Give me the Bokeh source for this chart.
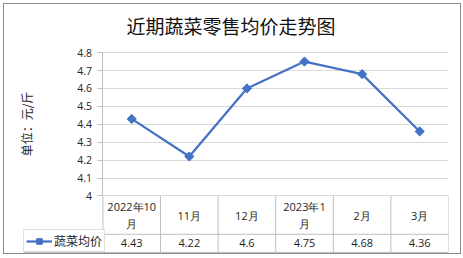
from bokeh.plotting import figure
from bokeh.models import (Range1d, FixedTicker, ColumnDataSource, Legend, LegendItem)
from bokeh.core.properties import value
from bokeh.embed import file_html
from bokeh.resources import INLINE
import math

title = "近期蔬菜零售均价走势图"
categories = ["2022年10\n月", "11月", "12月", "2023年1\n月", "2月", "3月"]
prices = [4.43, 4.22, 4.6, 4.75, 4.68, 4.36]
series_name = "蔬菜均价"
y_ticks = [4.0, 4.1, 4.2, 4.3, 4.4, 4.5, 4.6, 4.7, 4.8]
y_label = "单位：元/斤"

BLUE = "#4472C4"
GRID = "#D9D9D9"
TBL = "#BFBFBF"
FONT = "Noto Sans CJK SC"
NUMFONT = "Open Sans"

# page geometry (px) ; the figure sits inside a 1px border at (3,3)
OFF = 4
CW, CH = 456, 249                  # canvas size
PL, PR, PT, PB = 10, 446, 42, 252  # frame edges on the page
AX_X = 102                         # page x of the value axis / first table column
TL = 23                            # page x of the table's left edge
Y4, Y48 = 194, 52                  # page y of the axis minimum / maximum
VAL_ROW, CAT_ROW = 18, 38          # table row heights
TBL_BOTTOM = 250

n = len(categories)
cell = (PR - AX_X) / n
x_start = -(AX_X - PL) / cell
x_tbl = -(AX_X - TL) / cell

y_lo, y_hi = y_ticks[0], y_ticks[-1]
ppu = (Y4 - Y48) / (y_hi - y_lo)
y_start = y_lo - (PB - Y4) / ppu
y_end = y_hi + (Y48 - PT) / ppu

xs = [i + 0.5 for i in range(n)]

p = figure(width=CW, height=CH, output_backend="svg", toolbar_location=None,
           x_range=Range1d(x_start, n), y_range=Range1d(y_start, y_end),
           x_axis_location=None,
           min_border_left=PL - OFF, min_border_right=CW - (PR - OFF),
           min_border_top=PT - OFF, min_border_bottom=CH - (PB - OFF),
           styles={"border": "1px solid #8c8c8c", "margin-left": "3px",
                   "margin-top": "3px", "box-sizing": "content-box"})
p.outline_line_color = None
p.background_fill_color = "white"
p.border_fill_color = "white"
p.xgrid.visible = False

# table coordinate system: 0 = bottom line of table, px upward
p.extra_y_ranges = {"tbl": Range1d(-(PB - TBL_BOTTOM), PB - PT - (PB - TBL_BOTTOM))}

# title
p.title.text = title
p.title.align = "left"
p.title.offset = 116
p.title.standoff = 7
p.title.text_font = FONT
p.title.text_font_size = "19px"
p.title.text_font_style = "normal"
p.title.text_color = "#111111"

# y axis, pinned at the first category edge
ax = p.yaxis[0]
ax.fixed_location = 0
ax.ticker = FixedTicker(ticks=y_ticks)
ax.bounds = (y_lo, y_hi)
ax.major_label_overrides = {4: "4"}
ax.major_label_text_font = NUMFONT
ax.major_label_text_font_size = "10.5px"
ax.major_label_text_color = "#262626"
ax.major_label_standoff = 6
ax.major_tick_in = 0
ax.major_tick_out = 5
ax.minor_tick_line_color = None
ax.axis_line_color = TBL
ax.major_tick_line_color = TBL
ax.axis_label = y_label
ax.axis_label_text_font = FONT
ax.axis_label_text_font_size = "12px"
ax.axis_label_text_font_style = "normal"
ax.axis_label_text_color = "#262626"
ax.axis_label_standoff = 39

grid = p.ygrid[0]
grid.ticker = FixedTicker(ticks=y_ticks)
grid.grid_line_color = GRID
grid.grid_line_width = 1
if "cross_bounds" in grid.properties():
    grid.cross_bounds = (0, n)
else:
    grid.visible = False
    p.segment(x0=[0] * len(y_ticks), y0=y_ticks, x1=[n] * len(y_ticks), y1=y_ticks,
              line_color=GRID, line_width=1)

# table lines
cat_top = VAL_ROW + CAT_ROW
vx0 = list(range(n + 1))
p.segment(x0=vx0, y0=[0] * (n + 1), x1=vx0, y1=[cat_top] * (n + 1),
          y_range_name="tbl", line_color=TBL, line_width=1)
p.segment(x0=[x_tbl, x_tbl], y0=[0, VAL_ROW], x1=[n, n], y1=[0, VAL_ROW],
          y_range_name="tbl", line_color=TBL, line_width=1)

# table text
src_t = ColumnDataSource(dict(x=xs, lab=categories,
                              val=[f"{v:g}" for v in prices]))
p.text(x="x", y=cat_top - CAT_ROW / 2, text="lab", source=src_t, y_range_name="tbl",
       text_align="center", text_baseline="middle", text_font=value(NUMFONT),
       text_font_size="11px", text_color="#262626", text_line_height=1.15)
p.text(x="x", y=VAL_ROW / 2, text="val", source=src_t, y_range_name="tbl",
       text_align="center", text_baseline="middle", text_font=value(NUMFONT),
       text_font_size="11px", text_color="#262626")

# series
src = ColumnDataSource(dict(x=xs, y=prices))
lr = p.line("x", "y", source=src, line_color=BLUE, line_width=2.25)
sr = p.scatter("x", "y", source=src, marker="square", angle=math.pi / 4, size=6.5,
               fill_color=BLUE, line_color=BLUE)

legend = Legend(items=[LegendItem(label=series_name, renderers=[lr, sr])],
                location=(TL - PL, PB - TBL_BOTTOM), margin=0, padding=2,
                glyph_width=26, glyph_height=14, label_height=14, label_standoff=2,
                label_text_font=FONT, label_text_font_size="12px",
                label_text_color="#262626", label_text_baseline="middle",
                border_line_color=TBL, background_fill_color="white",
                background_fill_alpha=1)
p.add_layout(legend, "center")

open("out.html", "w").write(file_html(p, INLINE))
